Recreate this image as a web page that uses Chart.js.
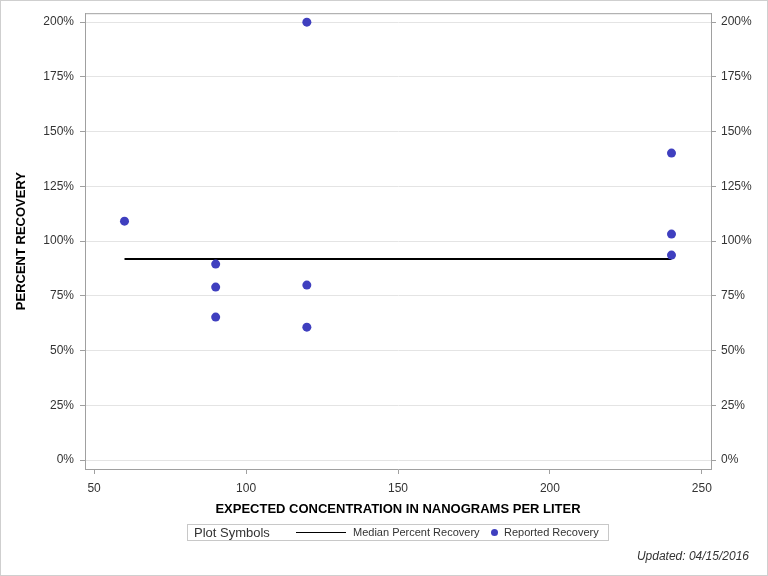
<!DOCTYPE html>
<html>
<head>
<meta charset="utf-8">
<script src="https://cdn.jsdelivr.net/npm/chart.js@4"></script>
<style>
  body { margin: 0; background: #fff; font-family: "Liberation Sans", Arial, sans-serif; }
  #wrap { position: relative; width: 768px; height: 576px; }
  #frame { position: absolute; left: 0; top: 0; width: 768px; height: 576px; border: 1px solid #cfcfcf; box-sizing: border-box; pointer-events: none; }
  #legend { position: absolute; left: 187px; top: 524px; width: 422px; height: 17px; border: 1px solid #c8c8c8; box-sizing: border-box; color: #333; }
  #legend span { position: absolute; top: 0; line-height: 15px; white-space: nowrap; }
  #updated { position: absolute; right: 19px; top: 549px; font-size: 12px; font-style: italic; color: #333; }
</style>
</head>
<body>
<div id="wrap">
  <canvas id="chart" width="768" height="576"></canvas>
  <div id="legend">
    <span style="left:6px; font-size:13px;">Plot Symbols</span>
    <div style="position:absolute; left:108px; top:7px; width:50px; height:1px; background:#000;"></div>
    <span style="left:165px; font-size:11px;">Median Percent Recovery</span>
    <div style="position:absolute; left:303px; top:4px; width:7px; height:7px; border-radius:50%; background:#3f3fbf;"></div>
    <span style="left:316px; font-size:11px;">Reported Recovery</span>
  </div>
  <div id="updated">Updated: 04/15/2016</div>
  <div id="frame"></div>
</div>
<script>
// valeurs
const concentration = [60, 90, 90, 90, 120, 120, 120, 240, 240, 240];
const recovery = [109.1, 89.5, 79.0, 65.3, 200.0, 79.9, 60.7, 140.2, 103.2, 93.6];
const medianX = [60, 240];
const medianY = [91.8, 91.8];
const xTicks = [50, 100, 150, 200, 250];
const yTicks = [0, 25, 50, 75, 100, 125, 150, 175, 200];

const FONT = '"Liberation Sans", Arial, sans-serif';
const AXIS_GRAY = '#a0a0a0';

const points = concentration.map((x, i) => ({ x: x, y: recovery[i] }));
const medianLine = medianX.map((x, i) => ({ x: x, y: medianY[i] }));

// cadre du haut (les autres côtés viennent des axes)
const topFrame = {
  id: 'topFrame',
  afterDraw(chart) {
    const { ctx, chartArea: a } = chart;
    ctx.save();
    ctx.strokeStyle = AXIS_GRAY;
    ctx.lineWidth = 1;
    ctx.beginPath();
    ctx.moveTo(a.left, a.top + 0.5);
    ctx.lineTo(a.right, a.top + 0.5);
    ctx.stroke();
    ctx.restore();
  }
};

const tickFont = { family: FONT, size: 12 };
const titleFont = { family: FONT, size: 13, weight: 'bold' };
const setYTicks = s => { s.ticks = yTicks.map(v => ({ value: v })); };

new Chart(document.getElementById('chart'), {
  type: 'scatter',
  data: {
    datasets: [
      {
        label: 'Reported Recovery',
        data: points,
        backgroundColor: '#3f3fbf',
        borderWidth: 0,
        pointRadius: 4.5,
        order: 1
      },
      {
        type: 'line',
        label: 'Median Percent Recovery',
        data: medianLine,
        borderColor: '#000',
        borderWidth: 2,
        pointRadius: 0,
        fill: false,
        order: 2
      }
    ]
  },
  options: {
    responsive: false,
    animation: false,
    layout: { padding: { left: 8, top: 13, right: 0, bottom: 56 } },
    plugins: { legend: { display: false }, tooltip: { enabled: false } },
    scales: {
      x: {
        type: 'linear',
        position: 'bottom',
        min: 47,
        max: 253,
        afterBuildTicks: s => { s.ticks = xTicks.map(v => ({ value: v })); },
        afterFit: s => { s.height = 51; },
        grid: { drawOnChartArea: false, tickLength: 5, tickColor: AXIS_GRAY },
        border: { color: AXIS_GRAY },
        ticks: { color: '#333', font: tickFont, padding: 7, maxRotation: 0 },
        title: {
          display: true,
          text: 'EXPECTED CONCENTRATION IN NANOGRAMS PER LITER',
          color: '#000',
          font: titleFont,
          padding: { top: 0, bottom: 3 }
        }
      },
      y: {
        type: 'linear',
        position: 'left',
        min: -4.1,
        max: 204.1,
        afterBuildTicks: setYTicks,
        afterFit: s => { s.width = 77; },
        grid: { color: '#e4e4e4', tickLength: 5, tickColor: AXIS_GRAY },
        border: { color: AXIS_GRAY },
        ticks: { color: '#333', font: tickFont, padding: 6, callback: v => v + '%' },
        title: {
          display: true,
          text: 'PERCENT RECOVERY',
          color: '#000',
          font: titleFont,
          padding: { top: 6, bottom: 0 }
        }
      },
      y2: {
        type: 'linear',
        position: 'right',
        min: -4.1,
        max: 204.1,
        afterBuildTicks: setYTicks,
        afterFit: s => { s.width = 57; },
        grid: { drawOnChartArea: false, tickLength: 5, tickColor: AXIS_GRAY },
        border: { color: AXIS_GRAY },
        ticks: { color: '#333', font: tickFont, padding: 5, callback: v => v + '%' }
      }
    }
  },
  plugins: [topFrame]
});
</script>
</body>
</html>
